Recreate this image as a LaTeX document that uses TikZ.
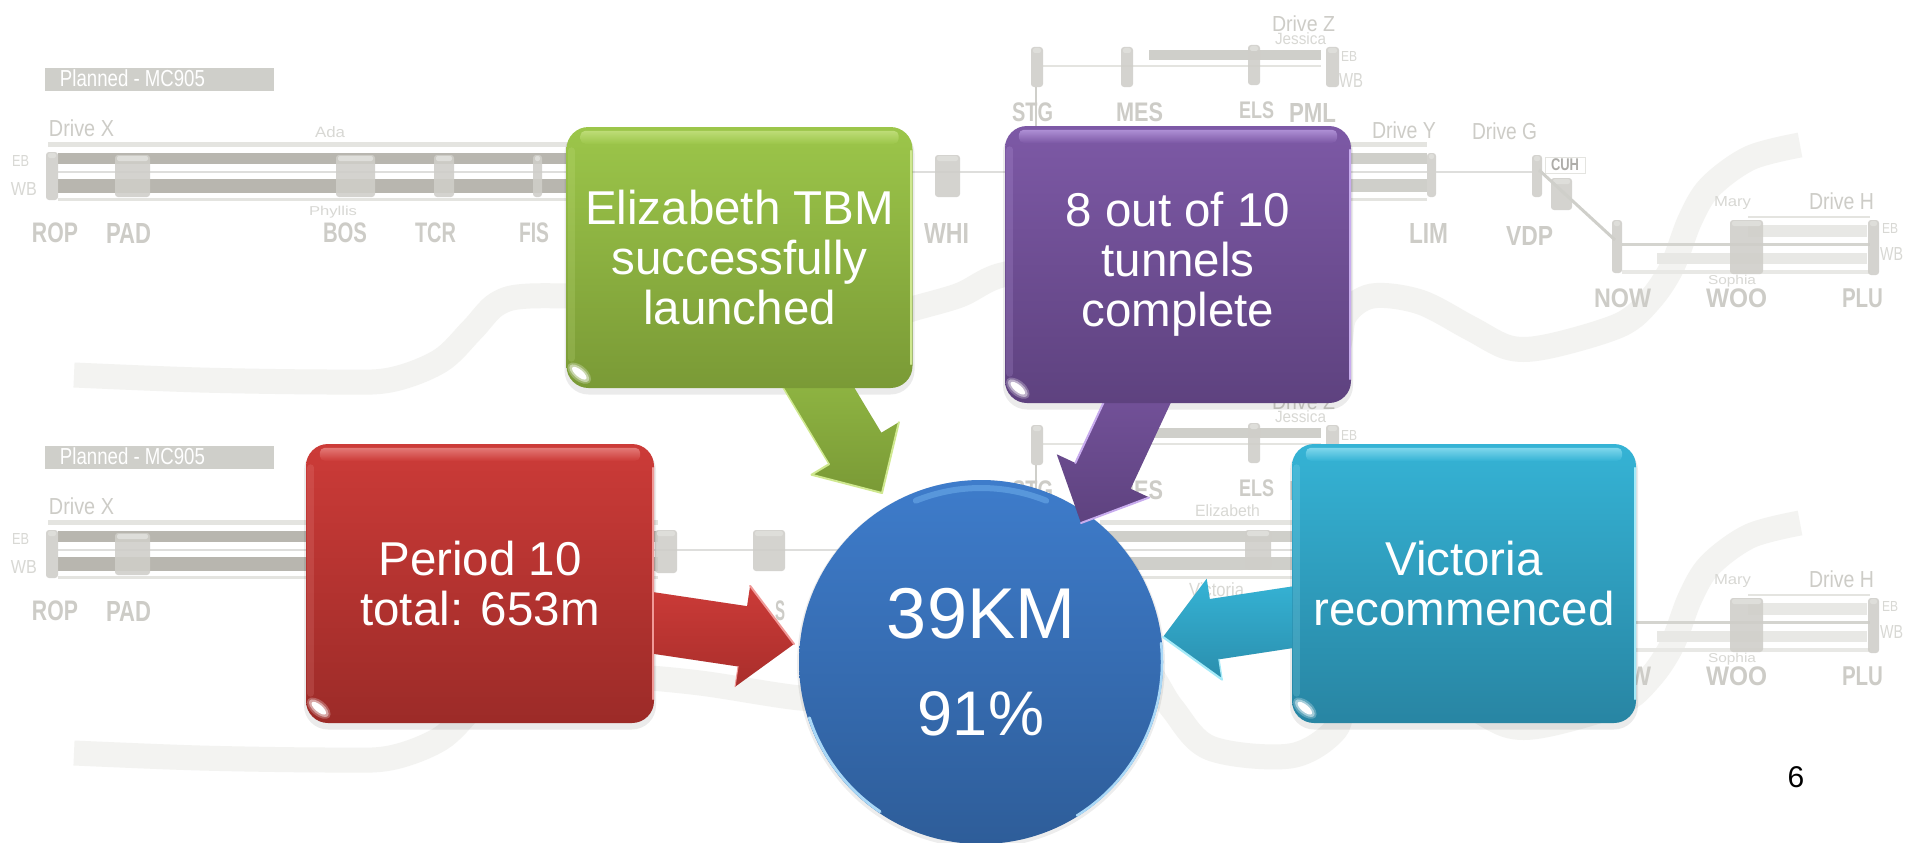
\documentclass[tikz,border=0pt]{standalone}
\usepackage{fontspec}
\usepackage{graphicx}
\setmainfont{Liberation Sans}
\usetikzlibrary{calc,shapes.geometric}
\definecolor{ribbon}{HTML}{F3F3F1}
\definecolor{barD}{HTML}{B8B6AF}
\definecolor{barM}{HTML}{CFCFCA}
\definecolor{barL}{HTML}{E4E4E0}
\definecolor{barP}{HTML}{E8E8E5}
\definecolor{stnC}{HTML}{CFCEC9}
\definecolor{stnT}{HTML}{DEDEDA}
\definecolor{labC}{HTML}{CDCCC7}
\definecolor{labS}{HTML}{D8D8D4}
\definecolor{HubTop}{HTML}{3E7CCB}
\definecolor{HubBot}{HTML}{2E5D99}
\definecolor{HubLight}{HTML}{6FAEEB}
\definecolor{HubRim}{HTML}{A9D8F7}
\definecolor{GrnTop}{HTML}{9CC64A}
\definecolor{GrnBot}{HTML}{7A9A36}
\definecolor{GrnLight}{HTML}{CFE88F}
\definecolor{PurTop}{HTML}{7D59A6}
\definecolor{PurBot}{HTML}{5E427F}
\definecolor{PurLight}{HTML}{C8ACEE}
\definecolor{RedTop}{HTML}{CC3B38}
\definecolor{RedMid}{HTML}{A92E2B}
\definecolor{RedBot}{HTML}{9C2B28}
\definecolor{RedLight}{HTML}{F09A98}
\definecolor{CyaTop}{HTML}{35B3D5}
\definecolor{CyaBot}{HTML}{2885A3}
\definecolor{CyaLight}{HTML}{A5EAF8}
\tikzset{
  bgcode/.style={inner sep=0pt,text=labC,font=\bfseries},
  bgdrive/.style={inner sep=0pt,text=labC},
  bgsmall/.style={inner sep=0pt,text=labS},
  bgwhite/.style={inner sep=0pt,text=white},
  bgcuh/.style={inner sep=0pt,text=labC!85!black,font=\bfseries},
  hubbox/.style n args={2}{rectangle,rounded corners=22pt,inner sep=0pt,minimum width=346pt,
    top color=#1,bottom color=#2,text=white,align=center,
    font=\fontsize{47.5}{50}\selectfont},
  hubshadow/.style={rectangle,rounded corners=24pt,inner sep=0pt,fill=black},
  hubtext/.style={text=white,inner sep=0pt,anchor=base},
  glint/.style={ellipse,inner sep=0pt,fill=white,rotate=-40},
}
\newif\ifupperdiag
% background helpers
\newcommand{\bglab}[7][bgcode]{% style,name,x1,y1,x2,y2,text
  \pgfmathsetmacro\lwd{#5-#3}\pgfmathsetmacro\lht{#6-#4}%
  \node[#1] (\pf#2) at ({(#3+#5)/2},{(#4+#6)/2}) {\resizebox*{\lwd pt}{\lht pt}{#7}};}
\newcommand{\bgrect}[5]{\fill[#5] (#1,#2) rectangle (#3,#4);}
\newcommand{\stn}[4]{%
  \fill[stnC,opacity=.88,rounded corners=3pt] (#1,#2) rectangle (#3,#4);
  \pgfmathsetmacro\sty{#2+6}%
  \fill[stnT,rounded corners=2pt] ({#1+2},{#2+1}) rectangle ({#3-2},\sty);}
\newcommand{\bgdiagram}[1]{%
  \def\pf{#1}%
  \draw[ribbon,line width=25pt] plot[smooth,tension=0.55] coordinates {
    (74,375) (200,380) (330,382) (390,380) (440,361) (472,330) (497,304) (530,296)
    (620,298) (700,305) (800,320) (870,322) (912,309) (960,295) (1002,275) (1080,265)
    (1140,285) (1172,330) (1210,370) (1290,378) (1335,352) (1345,315) (1372,296)
    (1420,302) (1470,328) (1510,348) (1550,346) (1620,325) (1650,300) (1672,267)
    (1690,220) (1710,187) (1750,158) (1800,145)};
  % title bar
  \bgrect{45}{68}{274}{91}{barM}
  \bglab[bgwhite]{planned}{60}{70}{205}{87}{Planned - MC905}
  % Drive X
  \bglab[bgdrive]{drivex}{49}{120}{114}{137}{Drive X}
  \bgrect{48}{142}{658}{147}{barL}
  \bgrect{58}{153}{658}{164}{barD}
  \bgrect{58}{179}{658}{193}{barD}
  \bgrect{58}{198}{658}{201}{barL}
  \bgrect{58}{171}{1427}{173}{barL!80!gray!70}
  \stn{46}{152}{58}{200}
  \stn{115}{155}{150}{197}
  \stn{336}{155}{375}{197}
  \stn{434}{155}{454}{197}
  \stn{533}{155}{542}{197}
  \stn{655}{152}{677}{195}
  \stn{753}{152}{785}{193}
  \stn{935}{155}{960}{197}
  \bglab[bgsmall]{ebx}{12}{155}{29}{166}{EB}
  \bglab[bgsmall]{wbx}{11}{182}{37}{195}{WB}
  \bglab{rop}{32}{223}{78}{243}{ROP}
  \bglab{pad}{106}{223}{151}{243}{PAD}
  \ifupperdiag
    \bglab[bgsmall]{ada}{315}{127}{345}{138}{Ada}
    \bglab[bgsmall]{phyllis}{309}{206}{357}{218}{Phyllis}
    \bglab{bos}{323}{223}{367}{243}{BOS}
    \bglab{tcr}{415}{223}{456}{243}{TCR}
    \bglab{fis}{519}{223}{549}{243}{FIS}
    \bglab{whi}{924}{223}{969}{243}{WHI}
  \else
    \bglab{s}{775}{223}{785}{243}{S}
    \bglab[bgsmall]{elizabeth}{1195}{127}{1260}{139}{Elizabeth}
    \bglab[bgsmall]{victoria}{1189}{205}{1244}{219}{Victoria}
  \fi
  % Drive Z
  \bglab[bgdrive]{drivez}{1272}{16}{1335}{32}{Drive Z}
  \bglab[bgsmall]{jessica}{1275}{33}{1326}{45}{Jessica}
  \bgrect{1149}{50}{1321}{60}{barM}
  \bgrect{1043}{65}{1321}{67}{barL}
  \bgrect{1035}{87}{1037}{128}{barM}
  \stn{1031}{47}{1043}{87}
  \stn{1121}{47}{1133}{87}
  \stn{1248}{45}{1260}{85}
  \stn{1326}{47}{1339}{87}
  \bglab[bgsmall]{ebz}{1341}{52}{1357}{62}{EB}
  \bglab[bgsmall]{wbz}{1339}{73}{1363}{87}{WB}
  \bglab{stg}{1012}{103}{1053}{122}{STG}
  \bglab{mes}{1116}{103}{1163}{122}{MES}
  \bglab{els}{1239}{102}{1274}{119}{ELS}
  \bglab{pml}{1289}{103}{1336}{122}{PML}
  % Drive Y
  \bgrect{1100}{142}{1427}{147}{barL}
  \bgrect{1100}{153}{1427}{164}{barM}
  \bgrect{1100}{179}{1427}{192}{barM}
  \bgrect{1100}{198}{1427}{201}{barL}
  \stn{1245}{152}{1271}{191}
  \stn{1427}{153}{1436}{197}
  % Drive G
  \bgrect{1436}{171}{1532}{173}{barL!80!gray!70}
  \stn{1532}{155}{1542}{197}
  \draw[barL,line width=.7pt] (1545,157) rectangle (1585,173);
  \stn{1551}{178}{1572}{210}
  \draw[barM,line width=3pt] (1539,170) -- (1615,240);
  \ifupperdiag
    \bglab[bgdrive]{drivey}{1372}{122}{1436}{139}{Drive Y}
    \bglab{lim}{1409}{223}{1448}{243}{LIM}
    \bglab[bgdrive]{driveg}{1472}{123}{1537}{140}{Drive G}
    \bglab[bgcuh]{cuh}{1551}{159}{1579}{171}{CUH}
    \bglab{vdp}{1506}{226}{1553}{245}{VDP}
  \fi
  % Drive H
  \bgrect{1748}{216}{1870}{218}{barL}
  \bgrect{1748}{225}{1867}{237}{barP}
  \bgrect{1657}{253}{1867}{264}{barP}
  \bgrect{1622}{243}{1870}{246}{barM!90}
  \bgrect{1622}{270}{1870}{274}{barP}
  \stn{1612}{220}{1622}{273}
  \stn{1730}{220}{1763}{274}
  \stn{1868}{220}{1879}{275}
  \bglab[bgsmall]{mary}{1714}{197}{1751}{210}{Mary}
  \bglab[bgdrive]{driveh}{1809}{193}{1874}{210}{Drive H}
  \bglab[bgsmall]{ebh}{1882}{223}{1898}{233}{EB}
  \bglab[bgsmall]{wbh}{1880}{247}{1903}{260}{WB}
  \bglab[bgsmall]{sophia}{1708}{275}{1756}{287}{Sophia}
  \bglab{now}{1594}{289}{1651}{308}{NOW}
  \bglab{woo}{1706}{289}{1767}{308}{WOO}
  \bglab{plu}{1842}{289}{1883}{308}{PLU}
}
% block arrow from named start to named tip
\newcommand{\blockarrow}[5]{% prefix,start,tip,top,bottom
  \coordinate (#1h) at ($(#3)!52pt!(#2)$);
  \coordinate (#1a1) at ($(#2)!30.5pt!90:(#3)$);
  \coordinate (#1a2) at ($(#2)!30.5pt!-90:(#3)$);
  \coordinate (#1n1) at ($(#1h)!30.5pt!90:(#3)$);
  \coordinate (#1n2) at ($(#1h)!30.5pt!-90:(#3)$);
  \coordinate (#1b1) at ($(#1h)!51pt!90:(#3)$);
  \coordinate (#1b2) at ($(#1h)!51pt!-90:(#3)$);
  \fill[black,opacity=.10,shift={(0,5)}] (#1a1)--(#1n1)--(#1b1)--(#3)--(#1b2)--(#1n2)--(#1a2)--cycle;
  \shade[top color=#4,bottom color=#5] (#1a1)--(#1n1)--(#1b1)--(#3)--(#1b2)--(#1n2)--(#1a2)--cycle;
}
\newcommand{\boxfx}[4]{% node,light strip,base top,edge
  \shade[top color=#2!65!#3,bottom color=#3,rounded corners=5pt]
    ($(#1.north west)+(14,4)$) rectangle ($(#1.north east)+(-14,17)$);
  \draw[#4,line width=1.6pt,line cap=round] ($(#1.north east)+(-1.5,24)$) -- ($(#1.south east)+(-1.5,-24)$);
  \draw[#2,opacity=.18,line width=7pt,line cap=round] ($(#1.north west)+(5,24)$) -- ($(#1.south west)+(5,-30)$);
  \coordinate (#1gc) at ($(#1.south west)+(13,-15)$);
  \node[glint,minimum width=28pt,minimum height=15pt,opacity=.25] (#1g1) at (#1gc) {};
  \node[glint,minimum width=24pt,minimum height=11pt,opacity=.45] (#1g2) at (#1gc) {};
  \node[glint,minimum width=18pt,minimum height=7pt] (#1g3) at (#1gc) {};
}
\begin{document}
\begin{tikzpicture}[x=1pt,y=-1pt]
\useasboundingbox (0,0) rectangle (1911,843);
\fill[white] (0,0) rectangle (1911,843);
\upperdiagtrue
\bgdiagram{u}
\upperdiagfalse
\begin{scope}[shift={(0,378)}]
\bgdiagram{l}
\end{scope}

% hub shadow + hub
\node[circle,minimum size=368pt,inner sep=0pt,fill=black,opacity=.07] (hubsh) at (981,664) {};
\node[circle,minimum size=364pt,inner sep=0pt,top color=HubTop,bottom color=HubBot] (hub) at (981,662) {};

% shadows of boxes
\node[hubshadow,minimum width=350pt,minimum height=265pt,opacity=.08] (gsh) at (739.5,262) {};
\node[hubshadow,minimum width=350pt,minimum height=281pt,opacity=.08] (psh) at (1178,269) {};
\node[hubshadow,minimum width=352pt,minimum height=283pt,opacity=.08] (rsh) at (480,588) {};
\node[hubshadow,minimum width=348pt,minimum height=283pt,opacity=.08] (csh) at (1464,588) {};

% boxes (arrow shafts start inside them, so the arrows are drawn first)
\coordinate (gbox) at (739.5,257.5);
\coordinate (pbox) at (1178,264.5);
\coordinate (rbox) at (480,583.5);
\coordinate (cbox) at (1464,583.5);
\coordinate (gs) at (790,340);
\coordinate (ps) at (1165,343);
\coordinate (rs) at (600,615);
\coordinate (cs) at (1340,610);
\coordinate (gt) at (882,493);
\coordinate (pt) at (1081,523);
\coordinate (rt) at (794,644);
\coordinate (ct) at (1163,637);

\blockarrow{g}{gs}{gt}{GrnTop!90!GrnBot}{GrnBot}
\blockarrow{p}{ps}{pt}{PurTop}{PurBot}
\blockarrow{r}{rs}{rt}{RedTop}{RedMid}
\blockarrow{c}{cs}{ct}{CyaTop}{CyaBot!80!CyaTop}

% arrow edge highlights
\draw[GrnLight,line width=1.5pt,line cap=round] (gn2)--(ga2);
\draw[GrnLight,line width=2pt,line cap=round,line join=round] (gn2)--(gb2)--(gt)--(gb1);
\draw[PurLight,line width=2pt,line cap=round] (pb1)--(pt);
\draw[PurLight,line width=2pt,line cap=round] (pn2)--(pa2);
\draw[RedLight,line width=2pt,line cap=round] (rb1)--(rt);
\draw[RedLight,line width=1pt,line cap=round] (rb2)--(rn2);
\draw[CyaLight,line width=2.2pt,line cap=round] (cb1)--(ct);
\draw[CyaLight,line width=1.4pt,line cap=round] (cb1)--(cn1);

\node[hubbox={GrnTop}{GrnBot},minimum height=261pt] (green) at (gbox) {Elizabeth TBM\\successfully\\launched};
\node[hubbox={PurTop}{PurBot},minimum height=277pt] (purple) at (pbox) {8 out of 10\\tunnels\\complete};
\node[hubbox={RedTop}{RedBot},minimum width=348pt,minimum height=279pt] (red) at (rbox) {Period 10\\total: 653m};
\node[hubbox={CyaTop}{CyaBot},minimum width=344pt,minimum height=279pt] (cyan) at (cbox) {Victoria\\recommenced};

\boxfx{green}{GrnLight}{GrnTop}{GrnLight}
\boxfx{purple}{PurLight}{PurTop}{PurLight}
\boxfx{red}{RedLight}{RedTop}{RedLight}
\boxfx{cyan}{CyaLight}{CyaTop}{CyaLight}

% hub rim
\draw[HubLight,line width=6pt,opacity=.55,line cap=round] ($(hub.center)+(68:174pt)$) arc[start angle=68,end angle=112,radius=174pt];
\draw[HubRim,line width=2.5pt,line cap=round] ($(hub.center)+(-58:181pt)$) arc[start angle=-58,end angle=6,radius=181pt];
\draw[HubRim,line width=3pt,line cap=round] ($(hub.center)+(198:180.5pt)$) arc[start angle=198,end angle=236,radius=180.5pt];

\node[hubtext,font=\fontsize{72}{72}\selectfont] (km) at (981,638) {39KM};
\node[hubtext,font=\fontsize{63}{63}\selectfont] (pc) at (981,735) {91\%};
\node[inner sep=0pt,anchor=base,font=\fontsize{30}{30}\selectfont] (pageno) at (1796,787) {6};
\end{tikzpicture}
\end{document}
